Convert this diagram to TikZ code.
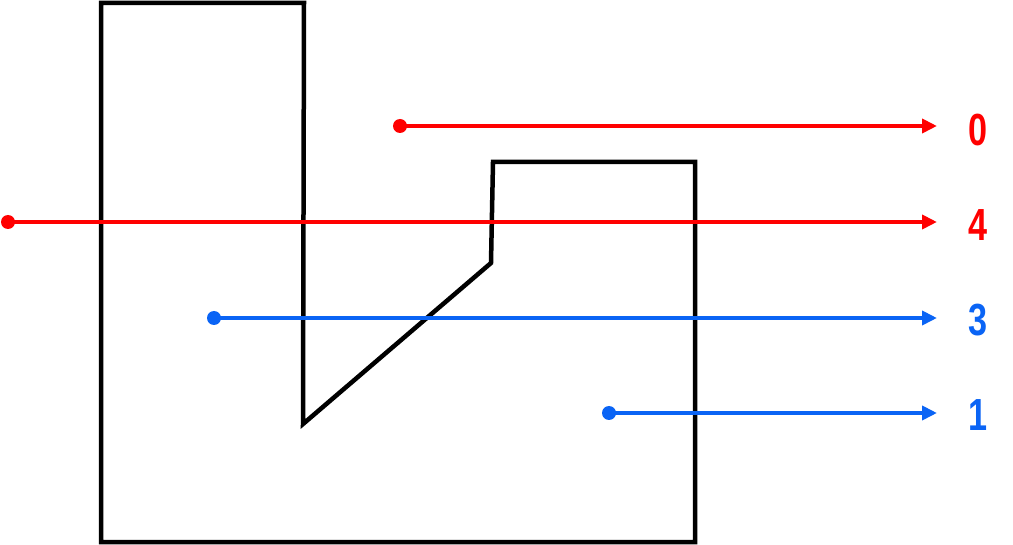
\documentclass[tikz,border=0pt]{standalone}
\usepackage{fontspec}
\setmainfont{Liberation Sans}
\usetikzlibrary{arrows.meta}
\definecolor{myred}{RGB}{255,0,0}
\definecolor{myblue}{RGB}{10,100,245}
\tikzset{
  outline/.style={line width=4.5pt, line join=miter},
  ray/.style={line width=4pt, -{Triangle[length=15pt,width=14pt]}},
  dotnode/.style={circle, fill, inner sep=0pt, minimum size=14pt},
  lbl/.style={font=\fontsize{45}{45}\selectfont\bfseries, inner sep=0pt, xscale=0.76},
}
\begin{document}
\begin{tikzpicture}[x=1pt,y=-1pt]
\useasboundingbox (0,0) rectangle (1013,545);
% outline shape
\draw[outline] (101,3) -- (304,3) -- (303,424) -- (491,263) -- (493,162) -- (695,162) -- (695,542) -- (101,542) -- cycle;
% red ray 0
\node[dotnode, myred] (d0) at (400,126) {};
\coordinate (e0) at (937,126);
\node[lbl, text=myred] (l0) at (978,130) {0};
\draw[ray, myred] (d0.center) -- (e0);
% red ray 4
\node[dotnode, myred] (d4) at (8,222) {};
\coordinate (e4) at (937,222);
\node[lbl, text=myred] (l4) at (978,225) {4};
\draw[ray, myred] (d4.center) -- (e4);
% blue ray 3
\node[dotnode, myblue] (d3) at (214,318) {};
\coordinate (e3) at (937,318);
\node[lbl, text=myblue] (l3) at (978,320) {3};
\draw[ray, myblue] (d3.center) -- (e3);
% blue ray 1
\node[dotnode, myblue] (d1) at (609,413) {};
\coordinate (e1) at (937,413);
\node[lbl, text=myblue] (l1) at (978,415) {1};
\draw[ray, myblue] (d1.center) -- (e1);
\end{tikzpicture}
\end{document}
